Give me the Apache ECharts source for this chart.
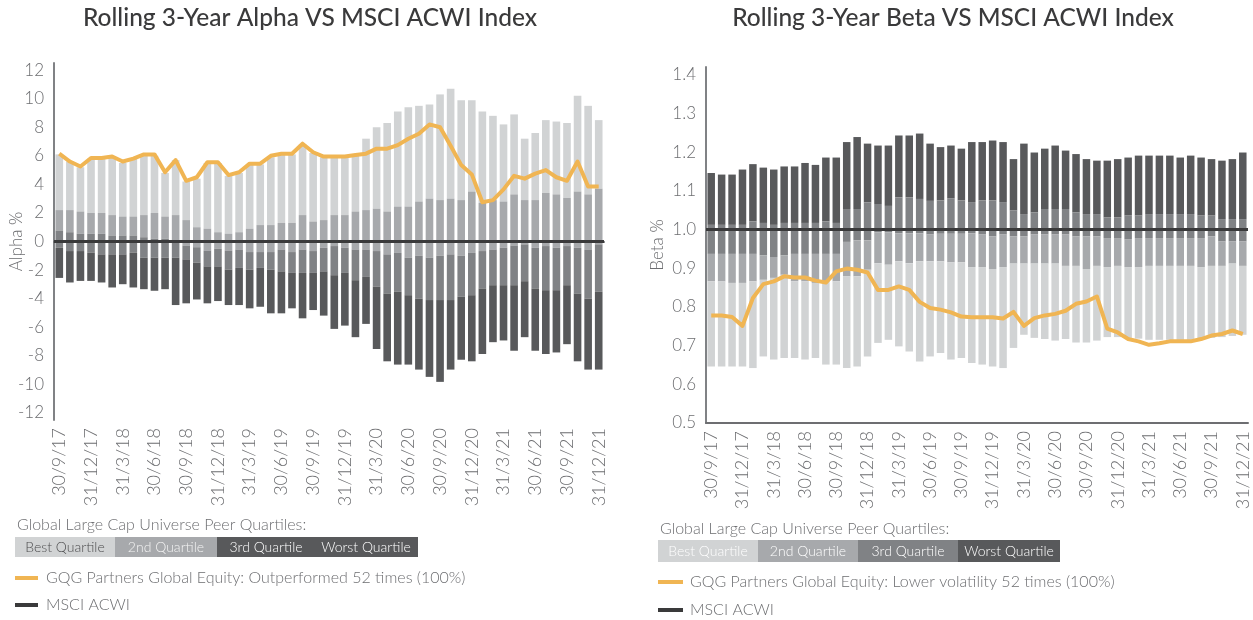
<!DOCTYPE html>
<html>
<head>
<meta charset="utf-8">
<title>Rolling 3-Year Alpha / Beta</title>
<script src="https://cdn.jsdelivr.net/npm/echarts@6/dist/echarts.min.js"></script>
<style>
  html, body { margin: 0; padding: 0; background: #fff; }
  #main { width: 1253px; height: 620px; }
</style>
</head>
<body>
<div id="main"></div>
<script>
// month ends, only every 3rd one gets a label
var months = [
  "30/9/17", "31/10/17", "30/11/17", "31/12/17",
  "31/1/18", "28/2/18", "31/3/18", "30/4/18", "31/5/18", "30/6/18", "31/7/18", "31/8/18", "30/9/18", "31/10/18", "30/11/18", "31/12/18",
  "31/1/19", "28/2/19", "31/3/19", "30/4/19", "31/5/19", "30/6/19", "31/7/19", "31/8/19", "30/9/19", "31/10/19", "30/11/19", "31/12/19",
  "31/1/20", "29/2/20", "31/3/20", "30/4/20", "31/5/20", "30/6/20", "31/7/20", "31/8/20", "30/9/20", "31/10/20", "30/11/20", "31/12/20",
  "31/1/21", "28/2/21", "31/3/21", "30/4/21", "31/5/21", "30/6/21", "31/7/21", "31/8/21", "30/9/21", "31/10/21", "30/11/21", "31/12/21"
];

// alpha quartile band edges (%)
var alphaBestTop = [6.1, 5.6, 5.2, 5.8, 5.8, 5.9, 5.5, 5.8, 6.0, 6.0,
  4.8, 5.7, 4.2, 4.4, 5.5, 5.5, 4.6, 4.8, 5.4, 5.4,
  5.9, 6.1, 6.1, 6.8, 6.2, 5.9, 5.9, 5.9, 6.0, 7.2,
  8.0, 8.3, 9.1, 9.4, 9.5, 9.6, 10.3, 10.7, 9.9, 9.9,
  9.1, 8.8, 8.2, 8.9, 7.2, 7.6, 8.5, 8.4, 8.3, 10.2,
  9.5, 8.5];
var alphaQ1 = [2.2, 2.2, 2.1, 2.0, 2.0, 1.85, 1.75, 1.75, 1.85, 2.0,
  1.75, 1.85, 1.5, 1.0, 0.9, 0.65, 0.55, 0.65, 0.9, 1.15,
  1.15, 1.3, 1.3, 1.85, 1.4, 1.5, 1.85, 1.85, 2.1, 2.2,
  2.3, 2.1, 2.45, 2.45, 2.8, 3.0, 2.9, 3.0, 2.9, 3.5,
  2.7, 2.9, 2.8, 3.3, 2.9, 2.9, 3.4, 3.3, 3.05, 3.5,
  3.3, 3.7];
var alphaMedian = [0.77, 0.65, 0.54, 0.54, 0.54, 0.42, 0.42, 0.42, 0.3, 0.2,
  0.2, 0.05, -0.28, -0.4, -0.63, -0.5, -0.63, -0.56, -0.74, -0.74,
  -0.74, -0.56, -0.74, -0.56, -0.67, -0.44, -0.32, -0.44, -0.56, -0.56,
  -0.67, -0.9, -0.8, -1.13, -1.0, -1.13, -1.0, -0.9, -1.0, -0.8,
  -0.67, -0.56, -0.44, -0.28, -0.2, -0.44, -0.32, -0.44, -0.32, -0.44,
  -0.56, -0.2];
var alphaQ3 = [-0.44, -0.67, -0.67, -0.79, -0.9, -0.9, -0.9, -0.79, -1.13, -1.13,
  -1.13, -1.13, -1.25, -1.48, -1.74, -1.74, -1.97, -1.85, -1.97, -1.85,
  -1.97, -2.09, -2.2, -2.2, -2.2, -2.09, -2.36, -2.2, -2.71, -2.48,
  -3.17, -3.64, -3.52, -3.76, -4.0, -4.1, -4.1, -4.1, -3.87, -3.76,
  -3.29, -3.06, -3.06, -3.06, -2.78, -3.29, -3.41, -3.41, -3.06, -3.64,
  -4.0, -3.52];
var alphaWorstBottom = [-2.55, -2.87, -2.76, -2.76, -2.87, -3.22, -2.99, -3.22, -3.34, -3.45,
  -3.34, -4.45, -4.33, -4.06, -4.33, -4.17, -4.45, -4.45, -4.68, -4.57,
  -5.03, -5.03, -4.68, -5.38, -4.8, -5.19, -6.12, -5.89, -6.7, -5.77,
  -7.53, -8.39, -8.62, -8.62, -8.97, -9.48, -9.83, -8.97, -8.28, -8.39,
  -7.88, -7.05, -6.93, -7.65, -6.7, -7.65, -7.88, -7.77, -7.19, -8.39,
  -8.97, -8.97];
var alphaFund = [6.15, 5.6, 5.25, 5.85, 5.85, 5.95, 5.6, 5.8, 6.1, 6.1,
  4.85, 5.7, 4.25, 4.5, 5.55, 5.55, 4.65, 4.85, 5.45, 5.45,
  6.0, 6.15, 6.15, 6.85, 6.25, 5.95, 5.95, 5.95, 6.05, 6.15,
  6.5, 6.5, 6.75, 7.2, 7.55, 8.2, 8.0, 6.7, 5.35, 4.7,
  2.75, 2.9, 3.65, 4.6, 4.4, 4.75, 5.0, 4.5, 4.25, 5.6,
  3.85, 3.85];

// beta quartile band edges
var betaWorstTop = [1.146, 1.142, 1.142, 1.155, 1.169, 1.16, 1.155, 1.163, 1.163, 1.172,
  1.167, 1.186, 1.186, 1.226, 1.239, 1.222, 1.217, 1.217, 1.243, 1.243,
  1.248, 1.222, 1.213, 1.217, 1.209, 1.226, 1.226, 1.23, 1.226, 1.182,
  1.222, 1.199, 1.209, 1.217, 1.204, 1.195, 1.182, 1.178, 1.178, 1.182,
  1.186, 1.191, 1.191, 1.191, 1.191, 1.186, 1.191, 1.186, 1.182, 1.178,
  1.182, 1.199];
var betaQ3 = [1.012, 1.012, 1.012, 1.012, 1.021, 1.017, 1.012, 1.017, 1.017, 1.017,
  1.017, 1.021, 1.017, 1.053, 1.053, 1.07, 1.066, 1.061, 1.083, 1.083,
  1.079, 1.074, 1.075, 1.08, 1.075, 1.071, 1.075, 1.075, 1.071, 1.049,
  1.04, 1.044, 1.053, 1.053, 1.053, 1.044, 1.04, 1.04, 1.031, 1.031,
  1.036, 1.036, 1.04, 1.04, 1.04, 1.04, 1.04, 1.036, 1.036, 1.027,
  1.027, 1.027];
var betaMedian = [0.937, 0.937, 0.937, 0.937, 0.937, 0.933, 0.929, 0.933, 0.937, 0.937,
  0.937, 0.937, 0.937, 0.968, 0.972, 0.972, 0.993, 0.993, 0.99, 0.99,
  0.99, 0.987, 0.989, 0.989, 0.989, 0.99, 0.987, 0.982, 0.987, 0.982,
  0.982, 0.987, 0.987, 0.987, 0.987, 0.982, 0.982, 0.982, 0.978, 0.978,
  0.974, 0.978, 0.978, 0.978, 0.978, 0.978, 0.978, 0.978, 0.982, 0.969,
  0.969, 0.969];
var betaQ1 = [0.866, 0.866, 0.862, 0.862, 0.866, 0.87, 0.875, 0.883, 0.866, 0.866,
  0.862, 0.866, 0.866, 0.879, 0.879, 0.896, 0.913, 0.909, 0.918, 0.913,
  0.918, 0.918, 0.918, 0.915, 0.915, 0.903, 0.903, 0.898, 0.903, 0.912,
  0.912, 0.912, 0.912, 0.912, 0.906, 0.906, 0.898, 0.906, 0.903, 0.906,
  0.903, 0.903, 0.906, 0.906, 0.906, 0.906, 0.906, 0.903, 0.906, 0.906,
  0.912, 0.906];
var betaBestBottom = [0.646, 0.646, 0.646, 0.646, 0.642, 0.672, 0.664, 0.668, 0.668, 0.664,
  0.668, 0.651, 0.651, 0.642, 0.646, 0.672, 0.707, 0.715, 0.698, 0.685,
  0.659, 0.672, 0.681, 0.664, 0.668, 0.655, 0.651, 0.646, 0.642, 0.694,
  0.728, 0.72, 0.717, 0.713, 0.717, 0.708, 0.708, 0.713, 0.722, 0.722,
  0.72, 0.718, 0.715, 0.715, 0.715, 0.715, 0.715, 0.718, 0.72, 0.722,
  0.725, 0.728];
var betaFund = [0.778, 0.778, 0.774, 0.751, 0.823, 0.859, 0.866, 0.879, 0.876, 0.876,
  0.868, 0.863, 0.892, 0.899, 0.896, 0.889, 0.844, 0.844, 0.853, 0.844,
  0.813, 0.797, 0.793, 0.786, 0.775, 0.773, 0.773, 0.773, 0.77, 0.787,
  0.751, 0.771, 0.778, 0.782, 0.79, 0.808, 0.814, 0.827, 0.744, 0.734,
  0.717, 0.711, 0.702, 0.706, 0.711, 0.711, 0.711, 0.717, 0.726, 0.73,
  0.739, 0.73];

var FONT = 'Lato, "Open Sans", sans-serif';
var C_BEST = '#d1d3d4', C_2ND = '#a7a9ac', C_3RD = '#808285', C_WORST = '#58595b';
var C_FUND = '#f0b553', C_INDEX = '#3a3a3b', C_TEXT = '#6d6e71';

var chart = echarts.init(document.getElementById('main'));

// [index, low, high] for one band
function band(low, high) {
  return months.map(function (m, i) { return [i, low[i], high[i]]; });
}

function bandSeries(axis, color, data) {
  return {
    type: 'custom',
    xAxisIndex: axis,
    yAxisIndex: axis,
    encode: { x: 0, y: [1, 2] },
    data: data,
    silent: true,
    renderItem: function (params, api) {
      var lo = api.coord([api.value(0), api.value(1)]);
      var hi = api.coord([api.value(0), api.value(2)]);
      var w = api.size([1, 0])[0] * 0.72;
      return {
        type: 'rect',
        shape: { x: lo[0] - w / 2, y: hi[1], width: w, height: lo[1] - hi[1] },
        style: { fill: color }
      };
    }
  };
}

function fundSeries(axis, data) {
  return {
    type: 'line', xAxisIndex: axis, yAxisIndex: axis, data: data,
    symbol: 'none', silent: true, z: 5,
    lineStyle: { color: C_FUND, width: 4, join: 'round' }
  };
}

function indexSeries(axis, level) {
  return {
    type: 'line', xAxisIndex: axis, yAxisIndex: axis, data: [], z: 4,
    markLine: {
      silent: true, symbol: 'none', label: { show: false },
      lineStyle: { color: C_INDEX, width: 3, type: 'solid' },
      data: [{ yAxis: level }]
    }
  };
}

function xAxisCfg(g) {
  return {
    type: 'category', gridIndex: g, data: months, boundaryGap: true,
    axisTick: { show: false },
    axisLine: { lineStyle: { color: '#6d6e71', width: 2 } },
    axisLabel: { interval: 2, rotate: 90, color: C_TEXT, fontSize: 18, fontFamily: FONT, fontWeight: 300, margin: 8 }
  };
}

function legendText(x, y, txt, size, fill, align) {
  return {
    type: 'text', x: x, y: y, silent: true,
    style: { text: txt, font: '300 ' + size + 'px ' + FONT, fill: fill, align: align || 'left', verticalAlign: 'middle' }
  };
}
function box(x, y, w, h, fill) {
  return { type: 'rect', shape: { x: x, y: y, width: w, height: h }, style: { fill: fill }, silent: true };
}
function swatch(x1, x2, y, color) {
  return { type: 'line', shape: { x1: x1, y1: y, x2: x2, y2: y }, style: { stroke: color, lineWidth: 4 }, silent: true };
}

var graphics = [
  { type: 'text', x: 310, y: 18, style: { text: 'Rolling 3-Year Alpha VS MSCI ACWI Index', font: '500 24.5px ' + FONT, fill: '#3a3a3b', align: 'center', verticalAlign: 'middle' } },
  { type: 'text', x: 953, y: 18, style: { text: 'Rolling 3-Year Beta VS MSCI ACWI Index', font: '500 24.5px ' + FONT, fill: '#3a3a3b', align: 'center', verticalAlign: 'middle' } },

  legendText(17, 525, 'Global Large Cap Universe Peer Quartiles:', 16, C_TEXT),
  box(15, 537, 100, 20, C_BEST), box(115, 537, 102, 20, C_2ND), box(217, 537, 98, 20, C_WORST), box(315, 537, 103, 20, C_WORST),
  legendText(65, 547, 'Best Quartile', 14, '#4d4d4f', 'center'),
  legendText(166, 547, '2nd Quartile', 14, '#f4f4f4', 'center'),
  legendText(266, 547, '3rd Quartile', 14, '#ffffff', 'center'),
  legendText(366, 547, 'Worst Quartile', 14, '#ffffff', 'center'),
  swatch(15, 38, 578, C_FUND),
  legendText(46, 578, 'GQG Partners Global Equity: Outperformed 52 times (100%)', 16, C_TEXT),
  swatch(15, 38, 605, C_INDEX),
  legendText(46, 605, 'MSCI ACWI', 16, C_TEXT),

  legendText(660, 529, 'Global Large Cap Universe Peer Quartiles:', 16, C_TEXT),
  box(658, 540, 100, 22, C_BEST), box(758, 540, 100, 22, C_2ND), box(858, 540, 100, 22, C_3RD), box(958, 540, 102, 22, C_WORST),
  legendText(708, 551, 'Best Quartile', 14, '#ffffff', 'center'),
  legendText(808, 551, '2nd Quartile', 14, '#ffffff', 'center'),
  legendText(908, 551, '3rd Quartile', 14, '#ffffff', 'center'),
  legendText(1009, 551, 'Worst Quartile', 14, '#ffffff', 'center'),
  swatch(658, 683, 582, C_FUND),
  legendText(690, 582, 'GQG Partners Global Equity: Lower volatility 52 times (100%)', 16, C_TEXT),
  swatch(658, 683, 610, C_INDEX),
  legendText(690, 610, 'MSCI ACWI', 16, C_TEXT)
];

chart.setOption({
  animation: false,
  grid: [
    { left: 54, top: 63, width: 550, height: 357, containLabel: false, outerBoundsMode: 'none' },
    { left: 706, top: 67, width: 542, height: 356, containLabel: false, outerBoundsMode: 'none' }
  ],
  xAxis: [xAxisCfg(0), xAxisCfg(1)],
  yAxis: [
    {
      type: 'value', gridIndex: 0, min: -12.5, max: 12.5, interval: 0.5,
      splitLine: { show: false }, axisTick: { show: false },
      axisLine: { show: true, lineStyle: { color: '#808285', width: 2 } },
      axisLabel: {
        color: C_TEXT, fontSize: 17, fontFamily: FONT, fontWeight: 300, margin: 10,
        formatter: function (v) { return Math.abs(v % 2) < 1e-6 ? String(Math.round(v)) : ''; }
      },
      name: 'Alpha %', nameLocation: 'middle', nameGap: 29, nameMoveOverlap: false,
      nameTextStyle: { color: C_TEXT, fontSize: 17, fontFamily: FONT, fontWeight: 300 }
    },
    {
      type: 'value', gridIndex: 1, min: 0.5, max: 1.42, interval: 0.02,
      splitLine: { show: false }, axisTick: { show: false },
      axisLine: { show: true, lineStyle: { color: '#808285', width: 2 } },
      axisLabel: {
        color: C_TEXT, fontSize: 17, fontFamily: FONT, fontWeight: 300, margin: 10,
        formatter: function (v) { var t = v * 10; return Math.abs(t - Math.round(t)) < 1e-6 ? v.toFixed(1) : ''; }
      },
      name: 'Beta %', nameLocation: 'middle', nameGap: 40, nameMoveOverlap: false,
      nameTextStyle: { color: C_TEXT, fontSize: 17, fontFamily: FONT, fontWeight: 300 }
    }
  ],
  series: [
    bandSeries(0, C_BEST, band(alphaQ1, alphaBestTop)),
    bandSeries(0, C_2ND, band(alphaMedian, alphaQ1)),
    bandSeries(0, C_3RD, band(alphaQ3, alphaMedian)),
    bandSeries(0, C_WORST, band(alphaWorstBottom, alphaQ3)),
    indexSeries(0, 0),
    fundSeries(0, alphaFund),

    bandSeries(1, C_WORST, band(betaQ3, betaWorstTop)),
    bandSeries(1, C_3RD, band(betaMedian, betaQ3)),
    bandSeries(1, C_2ND, band(betaQ1, betaMedian)),
    bandSeries(1, C_BEST, band(betaBestBottom, betaQ1)),
    indexSeries(1, 1),
    fundSeries(1, betaFund)
  ],
  graphic: graphics
});
</script>
</body>
</html>
